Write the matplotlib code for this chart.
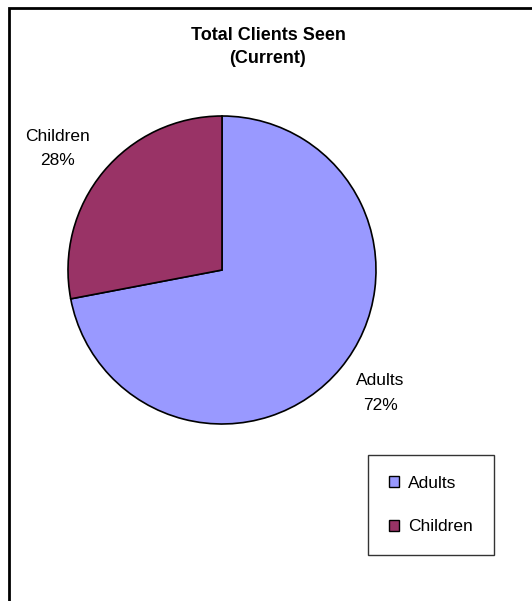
import matplotlib
matplotlib.use("Agg")
import matplotlib.pyplot as plt
from matplotlib.patches import Rectangle, Patch

plt.rcParams['font.family'] = ['Liberation Sans', 'DejaVu Sans']

# data
categories = ["Adults", "Children"]
shares = [72, 28]
colors = ["#9999FF", "#993366"]
title = "Total Clients Seen\n(Current)"

W, H = 532, 601
fig = plt.figure(figsize=(W / 100, H / 100), dpi=100)

# outer chart border (runs off the right and bottom of the image)
fig.patches.append(Rectangle((9 / W, -0.05), 1.1, 1 - 8 / H + 0.05,
                             transform=fig.transFigure, fill=False,
                             edgecolor="black", linewidth=2))

# pie axes: centre (222, 270) px, radius 154 px
cx, cy, r = 222, 270, 154
ax = fig.add_axes([(cx - r) / W, 1 - (cy + r) / H, 2 * r / W, 2 * r / H])
labels = [f"{c}\n{v}%" for c, v in zip(categories, shares)]
wedges, texts = ax.pie(shares, colors=colors, startangle=90 - 360 * shares[0] / 100,
                       counterclock=True, labels=labels, labeldistance=1.3,
                       wedgeprops=dict(edgecolor="black", linewidth=1.2),
                       textprops=dict(fontsize=12.5, ha="center", va="center",
                                      multialignment="center", linespacing=1.8))
ax.set_xlim(-1, 1)
ax.set_ylim(-1, 1)
ax.axis("off")

# nudge data labels to where the original puts them
texts[0].set_position((1.03, -0.8))
texts[1].set_position((-1.07, 0.79))

fig.text(268 / W, 1 - 47 / H, title, ha="center", va="center", fontsize=13,
         fontweight="bold", linespacing=1.45)

handles = [Patch(facecolor=c, edgecolor="black", linewidth=1) for c in colors]
leg = fig.legend(handles, categories, loc="upper left",
                 bbox_to_anchor=(368 / W, 1 - 455 / H), fontsize=12.5,
                 frameon=True, fancybox=False, edgecolor="black",
                 borderpad=1.2, labelspacing=1.65, handlelength=0.6,
                 handleheight=0.6, handletextpad=0.5, borderaxespad=0)
leg.get_frame().set_linewidth(1)

fig.savefig("out.png", dpi=100)
